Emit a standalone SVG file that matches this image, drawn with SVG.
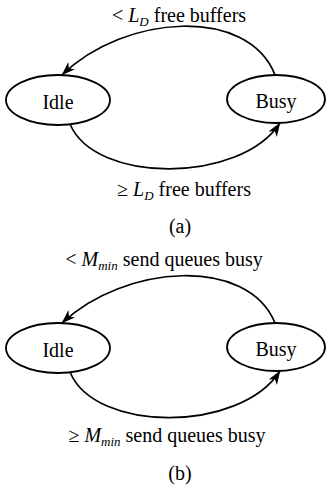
<svg xmlns="http://www.w3.org/2000/svg" width="327" height="489" viewBox="0 0 327 489" font-family="Liberation Serif, Times New Roman, serif">
  <style>
    .node { fill: #fff; stroke: #000; stroke-width: 1.8; }
    .edge { fill: none; stroke: #000; stroke-width: 1.7; }
    .lbl { font-family: 'Liberation Serif', 'Times New Roman', serif; font-size: 20px; fill: #000; text-anchor: middle; }
    .it { font-style: italic; }
    .sub { font-size: 13px; }
  </style>
  <defs>
    <marker id="arrow" viewBox="0 0 14 10" refX="13.5" refY="5" markerWidth="14" markerHeight="10" markerUnits="userSpaceOnUse" orient="auto">
      <path d="M0,0 L14,5 L0,10 L4,5 Z" fill="#000"/>
    </marker>
  </defs>

  <!-- (a) buffer-driven state machine -->
  <g id="edges-a">
    <path class="edge" d="M275,75 C248,6 125,14 62,75" marker-end="url(#arrow)"/>
    <path class="edge" d="M70,124 C95,184 240,184 280,123" marker-end="url(#arrow)"/>
  </g>
  <g id="idle-a">
    <ellipse class="node" cx="58" cy="100" rx="52" ry="25"/>
    <text class="lbl" x="58" y="109" font-family="Liberation Serif, serif">Idle</text>
  </g>
  <g id="busy-a">
    <ellipse class="node" cx="276" cy="99" rx="49" ry="24"/>
    <text class="lbl" x="276" y="108" font-family="Liberation Serif, serif">Busy</text>
  </g>
  <g id="labels-a">
    <text class="lbl" x="179" y="22" font-family="Liberation Serif, serif">&lt; <tspan class="it">L</tspan><tspan class="it sub" dy="4">D</tspan><tspan dy="-4"> free buffers</tspan></text>
    <text class="lbl" x="184" y="196" font-family="Liberation Serif, serif">≥ <tspan class="it">L</tspan><tspan class="it sub" dy="4">D</tspan><tspan dy="-4"> free buffers</tspan></text>
    <text class="lbl" x="180" y="233" font-family="Liberation Serif, serif">(a)</text>
  </g>

  <!-- (b) send-queue-driven state machine -->
  <g id="edges-b">
    <path class="edge" d="M275,323 C248,256 125,264 62,323" marker-end="url(#arrow)"/>
    <path class="edge" d="M70,372 C95,433 240,433 280,371" marker-end="url(#arrow)"/>
  </g>
  <g id="idle-b">
    <ellipse class="node" cx="58" cy="348" rx="52" ry="25"/>
    <text class="lbl" x="58" y="357" font-family="Liberation Serif, serif">Idle</text>
  </g>
  <g id="busy-b">
    <ellipse class="node" cx="276" cy="347" rx="49" ry="24"/>
    <text class="lbl" x="276" y="356" font-family="Liberation Serif, serif">Busy</text>
  </g>
  <g id="labels-b">
    <text class="lbl" x="164" y="266" font-family="Liberation Serif, serif">&lt; <tspan class="it">M</tspan><tspan class="it sub" dy="4">min</tspan><tspan dy="-4"> send queues busy</tspan></text>
    <text class="lbl" x="167" y="442" font-family="Liberation Serif, serif">≥ <tspan class="it">M</tspan><tspan class="it sub" dy="4">min</tspan><tspan dy="-4"> send queues busy</tspan></text>
    <text class="lbl" x="180" y="480" font-family="Liberation Serif, serif">(b)</text>
  </g>
</svg>
